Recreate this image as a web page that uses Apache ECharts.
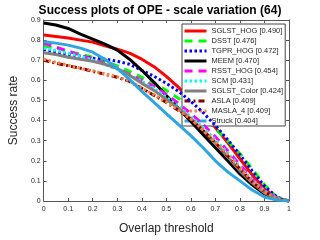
<!DOCTYPE html>
<html>
<head>
<meta charset="utf-8">
<script src="https://cdn.jsdelivr.net/npm/echarts@6/dist/echarts.min.js"></script>
<style>html,body{margin:0;padding:0;background:#fff}#c{width:320px;height:240px}</style>
</head>
<body>
<div id="c"></div>
<script>
var thresholds = [0,0.05,0.1,0.15,0.2,0.25,0.3,0.35,0.4,0.45,0.5,0.55,0.6,0.65,0.7,0.75,0.8,0.85,0.9,0.95,1];
var xTickLabels = ['0','0.1','0.2','0.3','0.4','0.5','0.6','0.7','0.8','0.9','1'];
var yTickLabels = ['0','0.1','0.2','0.3','0.4','0.5','0.6','0.7','0.8','0.9'];
var trackers = ['SGLST_HOG','DSST','TGPR_HOG','MEEM','RSST_HOG','SCM','SGLST_Color','ASLA','MASLA_4','Struck'];
var scores = ['0.490','0.476','0.472','0.470','0.454','0.431','0.424','0.409','0.409','0.404'];
var SGLST_HOG   = [0.825,0.818,0.81,0.8,0.79,0.772,0.755,0.735,0.705,0.668,0.62,0.565,0.5,0.435,0.365,0.29,0.21,0.13,0.06,0.015,0];
var DSST        = [0.77,0.76,0.745,0.73,0.715,0.695,0.672,0.645,0.615,0.585,0.55,0.51,0.465,0.415,0.36,0.3,0.235,0.16,0.08,0.02,0];
var TGPR_HOG    = [0.753,0.74,0.73,0.72,0.71,0.705,0.695,0.68,0.65,0.62,0.585,0.545,0.495,0.44,0.375,0.305,0.23,0.15,0.075,0.02,0];
var MEEM        = [0.885,0.875,0.858,0.83,0.805,0.78,0.75,0.705,0.65,0.59,0.525,0.46,0.395,0.33,0.265,0.2,0.135,0.08,0.035,0.01,0];
var RSST_HOG    = [0.785,0.765,0.745,0.725,0.705,0.685,0.66,0.63,0.6,0.57,0.53,0.485,0.435,0.38,0.32,0.25,0.18,0.11,0.05,0.015,0];
var SCM         = [0.76,0.748,0.735,0.72,0.7,0.678,0.655,0.625,0.595,0.56,0.515,0.47,0.42,0.365,0.305,0.24,0.17,0.105,0.05,0.015,0];
var SGLST_Color = [0.737,0.728,0.715,0.705,0.695,0.68,0.66,0.625,0.585,0.55,0.505,0.46,0.41,0.35,0.29,0.22,0.15,0.09,0.04,0.01,0];
var ASLA        = [0.7,0.685,0.672,0.66,0.645,0.63,0.615,0.595,0.56,0.525,0.49,0.45,0.405,0.35,0.29,0.225,0.16,0.095,0.045,0.012,0];
var MASLA_4     = [0.705,0.69,0.675,0.66,0.648,0.632,0.618,0.597,0.562,0.528,0.492,0.452,0.408,0.355,0.295,0.23,0.165,0.1,0.045,0.012,0];
var Struck      = [0.792,0.785,0.775,0.76,0.74,0.705,0.66,0.605,0.545,0.49,0.435,0.38,0.325,0.265,0.2,0.145,0.1,0.055,0.02,0.005,0];

var values = [SGLST_HOG, DSST, TGPR_HOG, MEEM, RSST_HOG, SCM, SGLST_Color, ASLA, MASLA_4, Struck];
var styles = [
  {color:'#ff0000', type:'solid'},
  {color:'#00ff00', type:[8,6]},
  {color:'#0000ff', type:[2.5,2.5]},
  {color:'#000000', type:'solid'},
  {color:'#ff00ff', type:[8,6]},
  {color:'#00ffff', type:[2.5,2.5]},
  {color:'#808080', type:'solid'},
  {color:'#800000', type:[6,3,2,3]},
  {color:'#ff8040', type:[2.5,2.5]},
  {color:'#2ea4e0', type:'solid'}
];
var FONT = 'Liberation Sans, Arial, Helvetica, sans-serif';
var TXT = '#262626';
var AX = '#555555';

var series = trackers.map(function(t, i){
  return {
    name: t + ' [' + scores[i] + ']',
    type: 'line',
    symbol: 'none',
    xAxisIndex: 0, yAxisIndex: 0,
    lineStyle: {color: styles[i].color, type: styles[i].type, width: 3, cap: 'butt'},
    itemStyle: {color: styles[i].color},
    data: thresholds.map(function(x, j){ return [x, values[i][j]]; }),
    z: 2 + i,
    animation: false
  };
});

function baseX(pos, show){
  return {
    type:'value', min:0, max:1, interval:0.1, position:pos,
    axisLine:{show:true, onZero:false, lineStyle:{color:AX, width:1}},
    axisTick:{show:true, inside:true, length:3, lineStyle:{color:AX, width:1}},
    axisLabel:{show:show, fontSize:7, color:TXT, fontFamily:FONT, margin:5,
      formatter:function(v){ return xTickLabels[Math.round(v*10)]; }},
    splitLine:{show:false}
  };
}
function baseY(pos, show){
  return {
    type:'value', min:0, max:0.9, interval:0.1, position:pos,
    axisLine:{show:true, onZero:false, lineStyle:{color:AX, width:1}},
    axisTick:{show:true, inside:true, length:3, lineStyle:{color:AX, width:1}},
    axisLabel:{show:show, fontSize:7, color:TXT, fontFamily:FONT, margin:3,
      formatter:function(v){ return yTickLabels[Math.round(v*10)]; }},
    splitLine:{show:false}
  };
}
var x0 = baseX('bottom', true);
x0.name = 'Overlap threshold'; x0.nameLocation = 'middle'; x0.nameGap = 22;
x0.nameTextStyle = {fontSize:12, color:TXT, fontFamily:FONT};
var x1 = baseX('top', false);
var y0 = baseY('left', true);
y0.name = 'Success rate'; y0.nameLocation = 'middle'; y0.nameGap = 11;
y0.nameTextStyle = {fontSize:12, color:TXT, fontFamily:FONT};
var y1 = baseY('right', false);

var chart = echarts.init(document.getElementById('c'), null, {renderer:'canvas'});
chart.setOption({
  animation:false,
  backgroundColor:'#ffffff',
  title:{text:'Success plots of OPE - scale variation (64)', left:'center', top:0,
    padding:[5,0,0,11],
    textStyle:{fontSize:12, fontWeight:'bold', color:'#000', fontFamily:FONT}},
  grid:{left:41, right:31, top:20, bottom:29.5},
  xAxis:[x0, x1],
  yAxis:[y0, y1],
  legend:{
    orient:'vertical', left:182, top:24,
    itemWidth:22, itemHeight:10, itemGap:0,
    padding:[2,2,0,1],
    backgroundColor:'#ffffff', borderColor:'#444', borderWidth:1,
    itemStyle:{opacity:0},
    lineStyle:{width:3},
    textStyle:{fontSize:7.5, color:TXT, fontFamily:FONT, lineHeight:10},
    itemTextGap:3
  },
  series: series
});
</script>
</body>
</html>
